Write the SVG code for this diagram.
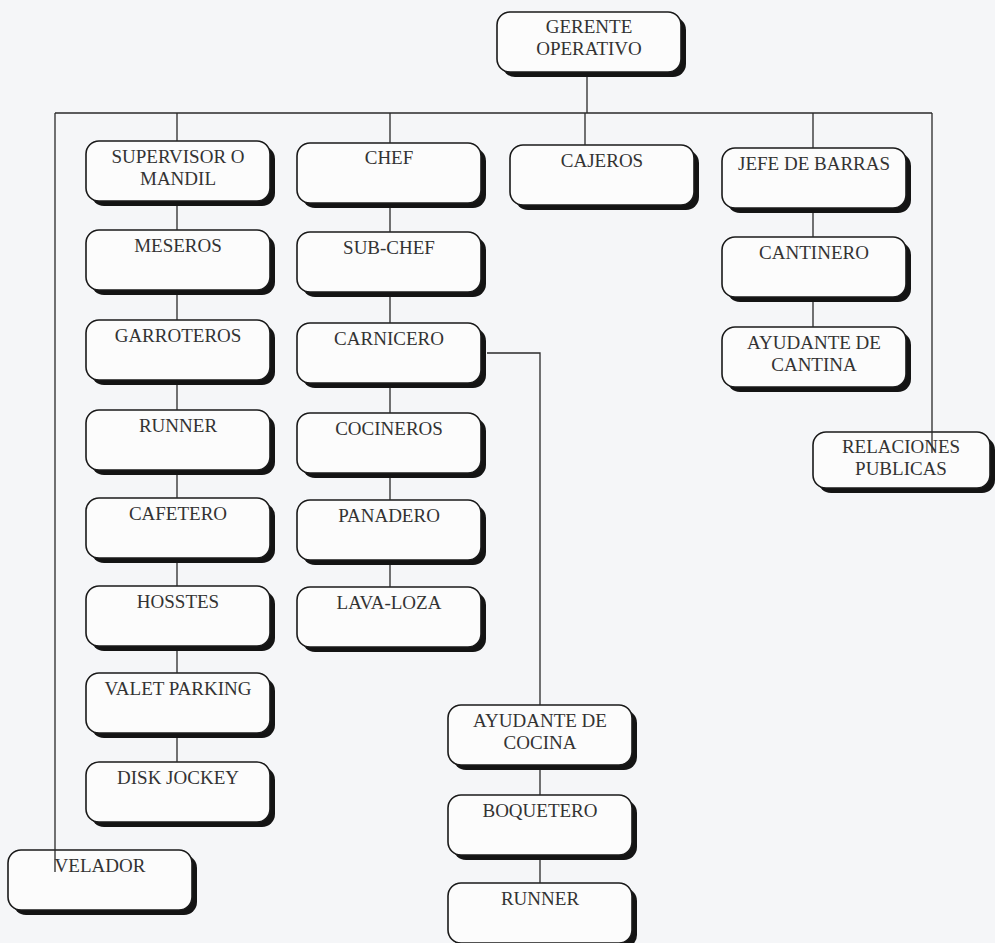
<svg xmlns="http://www.w3.org/2000/svg" width="995" height="943" viewBox="0 0 995 943">
<style>
.sh{fill:#141414}
.bx{fill:#fcfcfc;stroke:#1a1a1a;stroke-width:1.6}
.t{font-family:"Liberation Serif","Times New Roman",serif;font-size:19px;fill:#333;text-anchor:middle}
.c{stroke:#2a2a2a;stroke-width:1.3;fill:none}
</style>
<defs>
<g id="box"><rect class="sh" x="5" y="5" width="184" height="60" rx="13"/><rect class="bx" x="0" y="0" width="184" height="60" rx="13"/></g>
</defs>
<rect width="995" height="943" fill="#f5f6f8"/>
<g id="n-gerente"><use href="#box" x="497" y="12"/><text class="t" x="589" y="33">GERENTE</text><text class="t" x="589" y="55">OPERATIVO</text></g>
<g id="n-supervisor"><use href="#box" x="86" y="141"/><text class="t" x="178" y="163">SUPERVISOR O</text><text class="t" x="178" y="185">MANDIL</text></g>
<g id="n-meseros"><use href="#box" x="86" y="230"/><text class="t" x="178" y="252">MESEROS</text></g>
<g id="n-garroteros"><use href="#box" x="86" y="320"/><text class="t" x="178" y="342">GARROTEROS</text></g>
<g id="n-runner1"><use href="#box" x="86" y="410"/><text class="t" x="178" y="432">RUNNER</text></g>
<g id="n-cafetero"><use href="#box" x="86" y="498"/><text class="t" x="178" y="520">CAFETERO</text></g>
<g id="n-hosstes"><use href="#box" x="86" y="586"/><text class="t" x="178" y="608">HOSSTES</text></g>
<g id="n-valet"><use href="#box" x="86" y="673"/><text class="t" x="178" y="695">VALET PARKING</text></g>
<g id="n-disk"><use href="#box" x="86" y="762"/><text class="t" x="178" y="784">DISK JOCKEY</text></g>
<g id="n-velador"><use href="#box" x="8" y="850"/><text class="t" x="100" y="872">VELADOR</text></g>
<g id="n-chef"><use href="#box" x="297" y="143"/><text class="t" x="389" y="164">CHEF</text></g>
<g id="n-subchef"><use href="#box" x="297" y="232"/><text class="t" x="389" y="254">SUB-CHEF</text></g>
<g id="n-carnicero"><use href="#box" x="297" y="323"/><text class="t" x="389" y="345">CARNICERO</text></g>
<g id="n-cocineros"><use href="#box" x="297" y="413"/><text class="t" x="389" y="435">COCINEROS</text></g>
<g id="n-panadero"><use href="#box" x="297" y="500"/><text class="t" x="389" y="522">PANADERO</text></g>
<g id="n-lavaloza"><use href="#box" x="297" y="587"/><text class="t" x="389" y="609">LAVA-LOZA</text></g>
<g id="n-ayudcocina"><use href="#box" x="448" y="705"/><text class="t" x="540" y="727">AYUDANTE DE</text><text class="t" x="540" y="749">COCINA</text></g>
<g id="n-boquetero"><use href="#box" x="448" y="795"/><text class="t" x="540" y="817">BOQUETERO</text></g>
<g id="n-runner2"><use href="#box" x="448" y="883"/><text class="t" x="540" y="905">RUNNER</text></g>
<g id="n-cajeros"><use href="#box" x="510" y="145"/><text class="t" x="602" y="167">CAJEROS</text></g>
<g id="n-jefe"><use href="#box" x="722" y="148"/><text class="t" x="814" y="170">JEFE DE BARRAS</text></g>
<g id="n-cantinero"><use href="#box" x="722" y="237"/><text class="t" x="814" y="259">CANTINERO</text></g>
<g id="n-ayudcantina"><use href="#box" x="722" y="327"/><text class="t" x="814" y="349">AYUDANTE DE</text><text class="t" x="814" y="371">CANTINA</text></g>
<g id="n-relaciones"><rect class="sh" x="818" y="437" width="177" height="56" rx="13"/><rect class="bx" x="813" y="432" width="177" height="56" rx="13"/><text class="t" x="901" y="453">RELACIONES</text><text class="t" x="901" y="475">PUBLICAS</text></g>
<g id="connectors">
<path class="c" d="M587 77V113M55 113H932M55 113V872M177 113V141M390 113V143M585 113V145M813 113V148M932 113V453"/>
<path class="c" d="M177 206V230M177 295V320M177 385V410M177 475V498M177 563V586M177 651V673M177 738V762"/>
<path class="c" d="M390 208V232M390 297V323M390 388V413M390 478V500M390 565V587"/>
<path class="c" d="M487 353H540V705M540 770V795M540 860V883"/>
<path class="c" d="M813 213V237M813 302V327"/>
</g>
</svg>
